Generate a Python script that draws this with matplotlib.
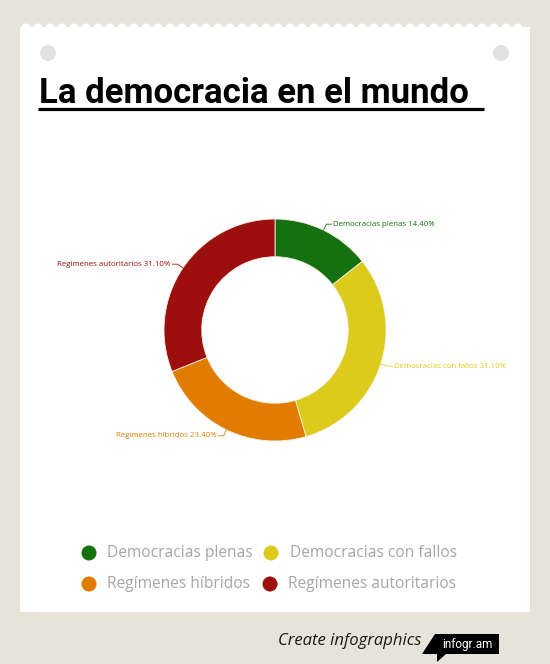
import numpy as np
import matplotlib.pyplot as plt
from matplotlib.patches import Rectangle, Circle, Polygon

# datos
categorias = ['Democracias plenas', 'Democracias con fallos',
              'Regímenes híbridos', 'Regímenes autoritarios']
porcentajes = [14.40, 31.10, 23.40, 31.10]
colores = ['#157010', '#dccb1b', '#e27c00', '#9c0f0c']
titulo = 'La democracia en el mundo'

W, H = 550, 664
fig = plt.figure(figsize=(W / 100, H / 100), dpi=100)
fig.patch.set_facecolor('#e6e3d9')

# fondo / tarjeta en coordenadas de pixel
bg = fig.add_axes([0, 0, 1, 1])
bg.set_xlim(0, W)
bg.set_ylim(H, 0)
bg.axis('off')

bg.add_patch(Rectangle((20, 27), 510, 585, facecolor='white', edgecolor='none'))
for x in np.arange(26, 530, 12):
    bg.add_patch(Circle((x, 28), 4.5, facecolor='white', edgecolor='none'))
for x in (48, 501):
    bg.add_patch(Circle((x, 53), 8, facecolor='#e2e2e2', edgecolor='none'))

bg.text(39, 103, titulo, fontsize=25, fontweight='bold', family='Roboto',
        color='black', ha='left', va='baseline')
bg.plot([38, 484], [108.5, 108.5], color='black', lw=2.3, solid_capstyle='butt')

# leyenda
pos_leyenda = [(89, 553, 107), (271, 553, 290), (89, 584, 107), (270, 584, 288)]
for (cx, cy, tx), cat, col in zip(pos_leyenda, categorias, colores):
    bg.add_patch(Circle((cx, cy), 7.5, facecolor=col, edgecolor='none'))
    bg.text(tx, cy, cat, fontsize=11.2, family='Open Sans', color='#a6a6a6',
            ha='left', va='center')

# pie de pagina
bg.text(278, 641, 'Create infographics', fontsize=12, style='italic',
        family='Open Sans', color='#1a1a1a', ha='left', va='center')
bg.add_patch(Polygon([(435, 634), (499, 634), (499, 654), (446, 654),
                      (437, 662), (437, 654), (422, 654)],
                     closed=True, facecolor='black', edgecolor='none'))
bg.text(467, 644.5, 'infogr.am', fontsize=8.5, family='Roboto', color='white',
        ha='center', va='center')

# donut
R = 111.0
cx, cy = 275, 330
ax = fig.add_axes([0, 0, 1, 1])
ax.patch.set_alpha(0)
wedges, _ = ax.pie(porcentajes, colors=colores, startangle=90, counterclock=False,
                   radius=1, wedgeprops=dict(width=0.34, edgecolor='#f4f1e4',
                                             linewidth=0.6))
ax.set_xlim(-cx / R, (W - cx) / R)
ax.set_ylim(-(H - cy) / R, cy / R)
ax.set_aspect('auto')
ax.axis('off')

for w, cat, val, col in zip(wedges, categorias, porcentajes, colores):
    th = np.deg2rad((w.theta1 + w.theta2) / 2)
    px, py = np.cos(th), np.sin(th)
    ex, ey = 1.06 * px, 1.06 * py
    s = 1 if px >= 0 else -1
    hx = ex + s * 0.045
    ax.plot([px, ex, hx], [py, ey, ey], color=col, lw=0.6)
    ax.text(hx + s * 0.015, ey, f'{cat} {val:.2f}%', fontsize=5.7,
            family='Open Sans', color=col,
            ha='left' if s > 0 else 'right', va='center')

fig.savefig('out.png', dpi=100, facecolor=fig.get_facecolor())
